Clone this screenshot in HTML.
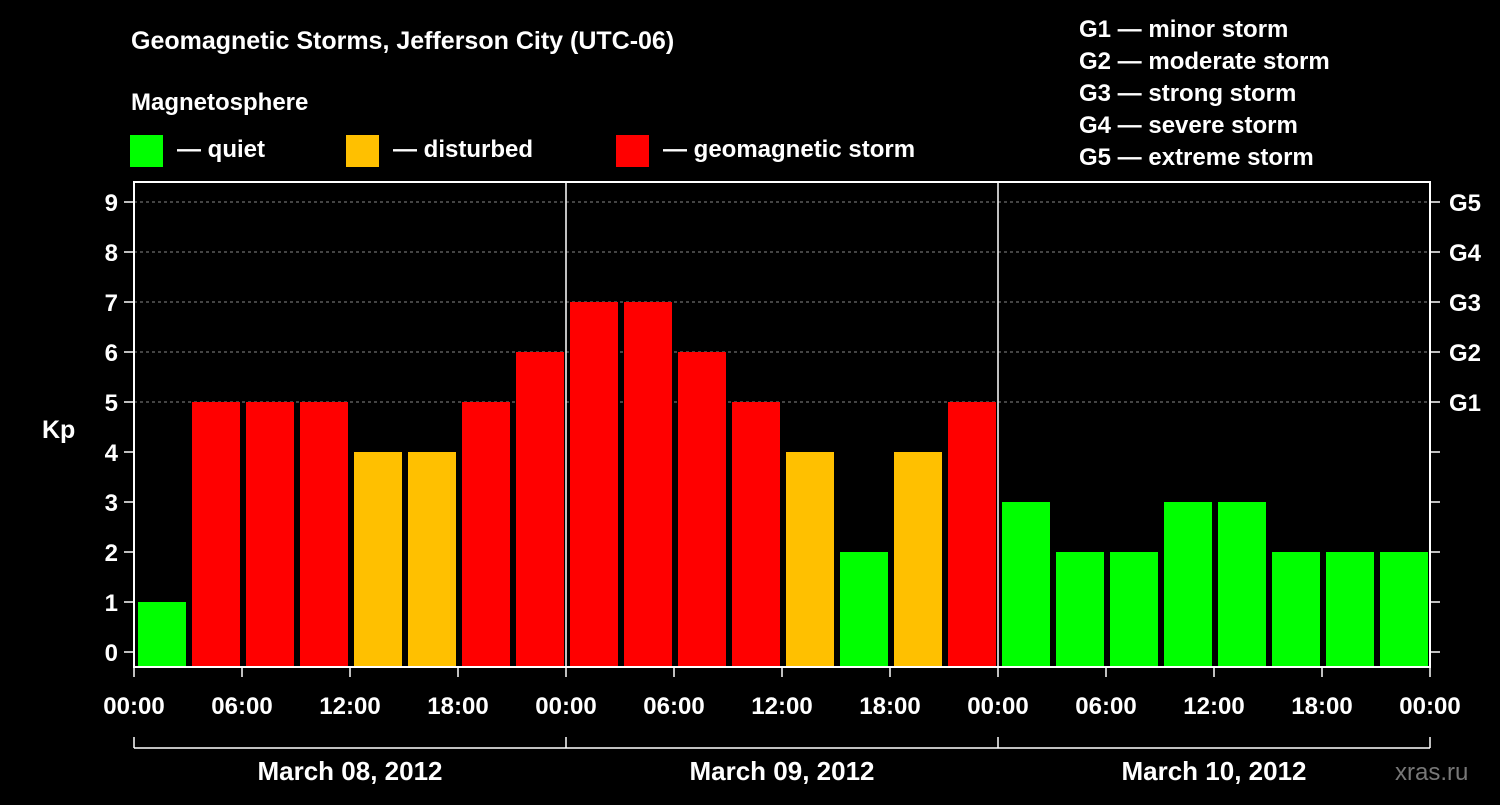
<!DOCTYPE html>
<html><head><meta charset="utf-8"><style>
body{margin:0;background:#000;width:1500px;height:800px;overflow:hidden}
svg text{font-family:"Liberation Sans",Arial,sans-serif;font-weight:bold;fill:#fff}
</style></head><body>
<svg id="c" width="1500" height="800" xmlns="http://www.w3.org/2000/svg">
<text x="131" y="49" font-size="25">Geomagnetic Storms, Jefferson City (UTC-06)</text>
<text x="131" y="110" font-size="24">Magnetosphere</text>
<g>
<rect x="130" y="135" width="33" height="32" fill="#00ff00"/><text x="177" y="157" font-size="24">— quiet</text>
<rect x="346" y="135" width="33" height="32" fill="#ffc000"/><text x="393" y="157" font-size="24">— disturbed</text>
<rect x="616" y="135" width="33" height="32" fill="#ff0000"/><text x="663" y="157" font-size="24">— geomagnetic storm</text>
</g>
<g font-size="24">
<text x="1079" y="37">G1 — minor storm</text>
<text x="1079" y="69">G2 — moderate storm</text>
<text x="1079" y="101">G3 — strong storm</text>
<text x="1079" y="133">G4 — severe storm</text>
<text x="1079" y="165">G5 — extreme storm</text>
</g>
<text x="42" y="438" font-size="25">Kp</text>
<text x="1395" y="780" font-size="24" style="fill:#777;font-weight:normal">xras.ru</text>
<g id="grid"></g><g id="bars"></g><g id="axes"></g>
</svg>
<script>
const values=[1,5,5,5,4,4,5,6, 7,7,6,5,4,2,4,5, 3,2,2,3,3,2,2,2];
const yTicks=[0,1,2,3,4,5,6,7,8,9];
const gLabels=["G1","G2","G3","G4","G5"];
const xLabels=["00:00","06:00","12:00","18:00","00:00","06:00","12:00","18:00","00:00","06:00","12:00","18:00","00:00"];
const days=["March 08, 2012","March 09, 2012","March 10, 2012"];
const L=134,R=1430,T=182,B=667;
const NS="http://www.w3.org/2000/svg";
const bw=(R-L)/values.length;
const y=v=>652-50*v;
const x=i=>L+bw*i;
function mk(t,a,p,txt){const e=document.createElementNS(NS,t);for(const k in a)e.setAttribute(k,a[k]);if(txt!==undefined)e.textContent=txt;p.appendChild(e);return e;}
const grid=document.getElementById('grid'),bars=document.getElementById('bars'),axes=document.getElementById('axes');
yTicks.forEach(v=>{
 if(v>=5){const l=mk('line',{x1:L,x2:R,y1:y(v),y2:y(v),stroke:'#888','stroke-dasharray':'3,3','stroke-width':1},grid);
 }
 mk('line',{x1:L-10,x2:L,y1:y(v),y2:y(v),stroke:'#fff','stroke-width':1.5},axes);
 mk('line',{x1:R,x2:R+10,y1:y(v),y2:y(v),stroke:'#fff','stroke-width':1.5},axes);
 const t=mk('text',{x:L-16,y:y(v)+9,'font-size':24,'text-anchor':'end'},axes,String(v));
 
});
gLabels.forEach((g,i)=>{const t=mk('text',{x:R+19,y:y(5+i)+9,'font-size':24},axes,g);
 });
values.forEach((v,i)=>{
 const c=v<4?'#00ff00':(v<5?'#ffc000':'#ff0000');
 const r=mk('rect',{x:x(i)+4,y:y(v),width:bw-6,height:B-y(v),fill:c},bars);
 
});
const fr=mk('rect',{x:L,y:T,width:R-L,height:B-T,fill:'none',stroke:'#fff','stroke-width':2},axes);

for(let d=1;d<days.length;d++){const xx=L+(R-L)/days.length*d;mk('line',{x1:xx,x2:xx,y1:T,y2:B,stroke:'#fff','stroke-width':1.5},axes);}
xLabels.forEach((s,i)=>{const xx=L+(R-L)/(xLabels.length-1)*i;
 mk('line',{x1:xx,x2:xx,y1:B,y2:B+10,stroke:'#fff','stroke-width':1.5},axes);
 const t=mk('text',{x:xx,y:714,'font-size':24,'text-anchor':'middle'},axes,s);
 });
mk('line',{x1:L,x2:R,y1:748,y2:748,stroke:'#fff','stroke-width':1.5},axes);
for(let d=0;d<=days.length;d++){const xx=L+(R-L)/days.length*d;mk('line',{x1:xx,x2:xx,y1:737,y2:748,stroke:'#fff','stroke-width':1.5},axes);}
days.forEach((s,i)=>{const t=mk('text',{x:L+(R-L)/days.length*(i+0.5),y:780,'font-size':26,'text-anchor':'middle'},axes,s);
 });
</script>
</body></html>
